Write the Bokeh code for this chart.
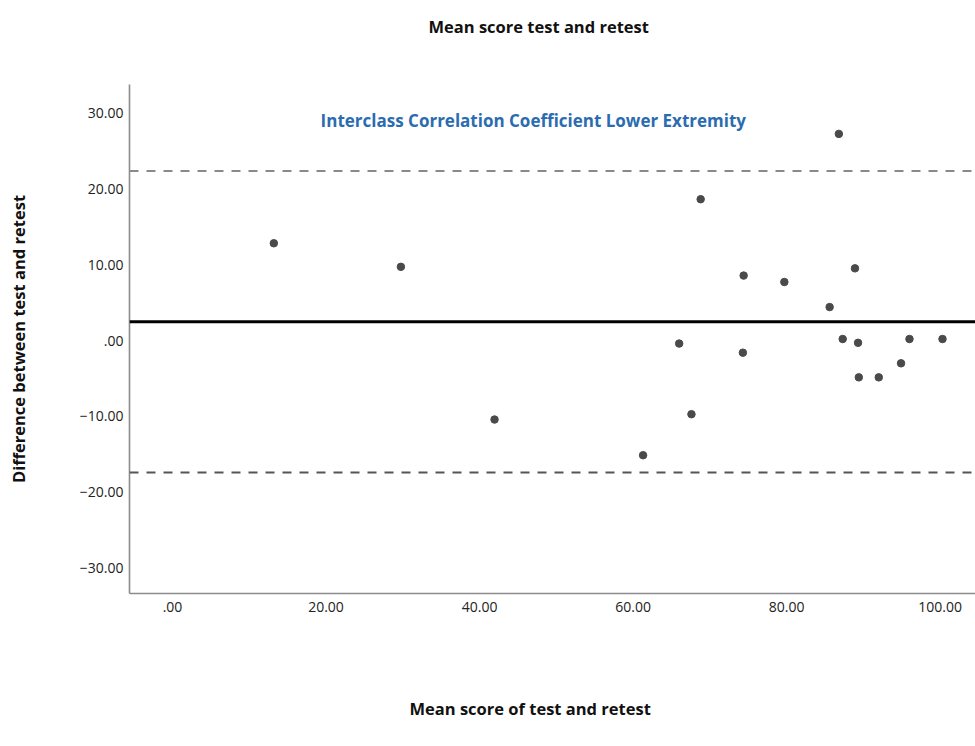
from bokeh.plotting import figure
from bokeh.models import Span, Label, Range1d, FixedTicker, CustomJSTickFormatter, Title
from bokeh.embed import file_html
from bokeh.resources import INLINE

# Bland-Altman data: mean of test & retest vs difference
mean_scores = [13.2, 29.75, 41.95, 61.3, 66.0, 67.6, 68.8, 74.4, 74.3, 79.7,
               86.8, 85.6, 87.3, 88.9, 89.3, 89.4, 92.0, 94.9, 96.0, 100.3]
differences = [12.8, 9.7, -10.4, -15.1, -0.4, -9.7, 18.6, 8.55, -1.6, 7.7,
               27.2, 4.4, 0.2, 9.5, -0.3, -4.85, -4.85, -3.0, 0.2, 0.2]

mean_diff = 2.47
upper_loa = 22.3
lower_loa = -17.37

x_ticks = [0, 20, 40, 60, 80, 100]
y_ticks = [-30, -20, -10, 0, 10, 20, 30]

title_text = "Mean score test and retest"
x_label = "Mean score of test and retest"
y_label = "Difference between test and retest"
note_text = "Interclass Correlation Coefficient Lower Extremity"

FONT = "Open Sans"

p = figure(width=975, height=730, output_backend="svg", toolbar_location=None,
           x_range=Range1d(-5.6, 104.6), y_range=Range1d(-33.3, 33.7),
           min_border_left=129, min_border_right=0, min_border_top=84,
           min_border_bottom=137)

p.outline_line_color = None
p.xgrid.grid_line_color = None
p.ygrid.grid_line_color = None
p.background_fill_color = "white"
p.border_fill_color = "white"

fmt = CustomJSTickFormatter(code="""
let s = tick.toFixed(2);
if (s === "0.00" || s === "-0.00") { return ".00"; }
return s.replace("-", "\u2212");
""")

for ax in (p.xaxis[0], p.yaxis[0]):
    ax.formatter = fmt
    ax.major_tick_line_color = None
    ax.minor_tick_line_color = None
    ax.axis_line_color = "#8c8c8c"
    ax.axis_line_width = 1.6
    ax.major_label_text_font = FONT
    ax.major_label_text_font_size = "14px"
    ax.major_label_text_color = "#222222"
    ax.axis_label_text_font = FONT
    ax.axis_label_text_font_size = "16.5px"
    ax.axis_label_text_font_style = "bold"
    ax.axis_label_text_color = "#111111"

p.xaxis[0].major_label_standoff = 2
p.yaxis[0].major_label_standoff = 0
p.xaxis[0].ticker = FixedTicker(ticks=x_ticks)
p.yaxis[0].ticker = FixedTicker(ticks=y_ticks)
p.yaxis[0].axis_label = y_label
p.yaxis[0].axis_label_standoff = 47


def spacer(standoff):
    # white 1px title used only to push the real title away from the frame
    return Title(text=".", text_font_size="1px", text_color="white",
                 standoff=standoff)


top_title = Title(text=title_text, align="left", offset=299, standoff=0,
                  text_font=FONT, text_font_size="16.5px", text_font_style="bold",
                  text_color="#111111")
bottom_title = Title(text=x_label, align="left", offset=280, standoff=0,
                     text_font=FONT, text_font_size="16.5px", text_font_style="bold",
                     text_color="#111111")
p.add_layout(spacer(44), "above")
p.add_layout(top_title, "above")
p.add_layout(spacer(77), "below")
p.add_layout(bottom_title, "below")

p.add_layout(Span(location=upper_loa, dimension="width", line_color="#8a8a8a",
                  line_width=2, line_dash="9 8"))
p.add_layout(Span(location=lower_loa, dimension="width", line_color="#555555",
                  line_width=2, line_dash="9 8"))
p.add_layout(Span(location=mean_diff, dimension="width", line_color="#000000",
                  line_width=3))

p.scatter(mean_scores, differences, size=7.5, fill_color="#4a4a4a",
          line_color="#4a4a4a")

p.add_layout(Label(x=47.0, y=29.0, text=note_text, text_align="center",
                   text_baseline="middle", text_font=FONT, text_font_size="17px",
                   text_font_style="bold", text_color="#2b6cb0"))

open("out.html", "w").write(file_html(p, INLINE))
